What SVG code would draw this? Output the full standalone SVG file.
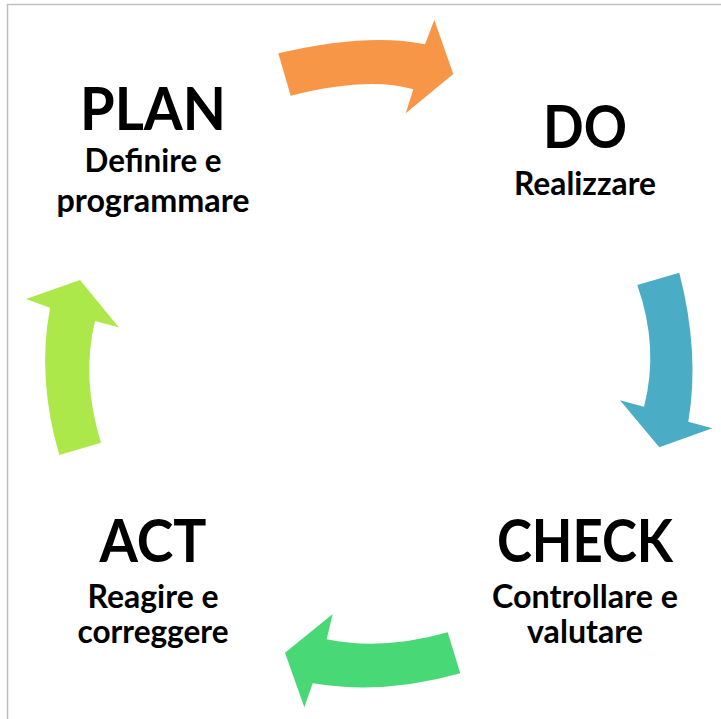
<svg xmlns="http://www.w3.org/2000/svg" width="721" height="719" viewBox="0 0 721 719">
<style>
.title{font-family:Lato,"Open Sans","Liberation Sans",sans-serif;font-weight:bold;font-size:60px;fill:#000;text-anchor:middle}
.sub{font-family:Lato,"Open Sans","Liberation Sans",sans-serif;font-weight:bold;font-size:31.5px;fill:#000;text-anchor:middle}
</style>
<rect x="0" y="0" width="721" height="719" fill="#fff"/>
<rect x="7.5" y="4.5" width="800" height="800" fill="none" stroke="#c0c0c0" stroke-width="1.5"/>
<g id="connectors">
<path id="plan-do" fill="#F79646" d="M 278.3 53.3 Q 368 32.2 425 44.3 L 434.3 20 L 453.3 74 L 405.7 113.3 L 413.3 89.3 Q 368 76.1 290.7 95.7 Z"/>
<path id="do-check" fill="#4BACC6" d="M 637.3 285 L 679.3 272.7 Q 700 353 688.3 421.7 L 712.3 428.3 L 659.3 447.3 L 620 400.3 L 644 406.7 Q 659.4 348 637.3 285 Z"/>
<path id="check-act" fill="#49D876" d="M 447.7 632.3 Q 382.8 650.8 326.7 639.3 L 332.7 614 L 285 652.7 L 304.3 707.3 L 312.7 683.3 Q 383.5 695.1 460.3 673.3 Z"/>
<path id="act-plan" fill="#ADE84A" d="M 26 299 L 80 280 L 118.7 327.3 L 95 321 Q 81 378 101 442.7 L 59.3 455 Q 36.8 378.6 50 307.7 Z"/>
</g>
<g id="plan">
<text class="title" x="153" y="130" textLength="146" lengthAdjust="spacingAndGlyphs">PLAN</text>
<text class="sub" x="153" y="172" textLength="137" lengthAdjust="spacingAndGlyphs">Definire e</text>
<text class="sub" x="153" y="212" textLength="193" lengthAdjust="spacingAndGlyphs">programmare</text>
</g>
<g id="do">
<text class="title" x="585" y="148" textLength="84" lengthAdjust="spacingAndGlyphs">DO</text>
<text class="sub" x="585" y="195" textLength="142" lengthAdjust="spacingAndGlyphs">Realizzare</text>
</g>
<g id="check">
<text class="title" x="585" y="562" textLength="176" lengthAdjust="spacingAndGlyphs">CHECK</text>
<text class="sub" x="585" y="608" textLength="186" lengthAdjust="spacingAndGlyphs">Controllare e</text>
<text class="sub" x="585" y="643" textLength="116" lengthAdjust="spacingAndGlyphs">valutare</text>
</g>
<g id="act">
<text class="title" x="153" y="562" textLength="107" lengthAdjust="spacingAndGlyphs">ACT</text>
<text class="sub" x="153" y="608" textLength="131" lengthAdjust="spacingAndGlyphs">Reagire e</text>
<text class="sub" x="153" y="643" textLength="151" lengthAdjust="spacingAndGlyphs">correggere</text>
</g>
</svg>
